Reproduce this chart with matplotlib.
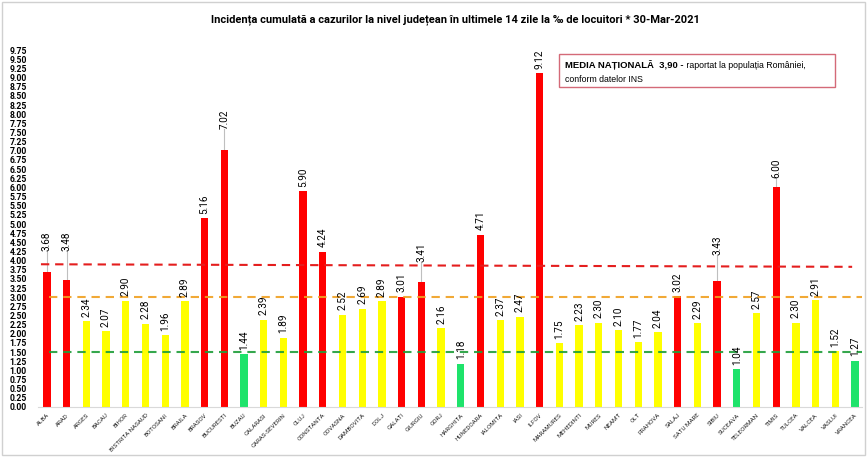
import numpy as np
import matplotlib
matplotlib.use('Agg')
import matplotlib.pyplot as plt
from matplotlib.patches import Rectangle

# ----------------- data -----------------
judete = ['ALBA', 'ARAD', 'ARGES', 'BACAU', 'BIHOR', 'BISTRITA NASAUD', 'BOTOSANI',
          'BRAILA', 'BRASOV', 'BUCURESTI', 'BUZAU', 'CALARASI', 'CARAS-SEVERIN', 'CLUJ',
          'CONSTANTA', 'COVASNA', 'DAMBOVITA', 'DOLJ', 'GALATI', 'GIURGIU', 'GORJ',
          'HARGHITA', 'HUNEDOARA', 'IALOMITA', 'IASI', 'ILFOV', 'MARAMURES', 'MEHEDINTI',
          'MURES', 'NEAMT', 'OLT', 'PRAHOVA', 'SALAJ', 'SATU MARE', 'SIBIU', 'SUCEAVA',
          'TELEORMAN', 'TIMIS', 'TULCEA', 'VALCEA', 'VASLUI', 'VRANCEA']
incidenta = [3.68, 3.48, 2.34, 2.07, 2.90, 2.28, 1.96, 2.89, 5.16, 7.02, 1.44, 2.39,
             1.89, 5.90, 4.24, 2.52, 2.69, 2.89, 3.01, 3.41, 2.16, 1.18, 4.71, 2.37,
             2.47, 9.12, 1.75, 2.23, 2.30, 2.10, 1.77, 2.04, 3.02, 2.29, 3.43, 1.04,
             2.57, 6.00, 2.30, 2.91, 1.52, 1.27]

media_nationala = [3.90, 3.83]   # red dashed line, slightly slanted in the original
prag_galben = 3.0
prag_verde = 1.5

# labels lifted above the bar, with a grey leader line
etichete_ridicate = {'ALBA': 4.25, 'ARAD': 4.25, 'BUCURESTI': 7.6,
                     'GIURGIU': 3.96, 'SIBIU': 4.15, 'TIMIS': 6.25}


def culoare(v):
    if v > prag_galben:
        return '#ff0000'
    if v >= prag_verde:
        return '#ffff00'
    return '#1ee36b'


plt.rcParams['font.family'] = ['Roboto', 'DejaVu Sans']

fig = plt.figure(figsize=(8.67, 4.57), dpi=100)
ax = fig.add_axes([38 / 867, 50 / 457, (862 - 38) / 867, 9.95 * 36.6 / 457])

x = np.arange(len(judete))
ax.bar(x, incidenta, width=0.37, color=[culoare(v) for v in incidenta], zorder=2)

for i, (j, v) in enumerate(zip(judete, incidenta)):
    if j in etichete_ridicate:
        y = etichete_ridicate[j]
        ax.plot([i, i], [v, y], color='#bfbfbf', lw=0.8, zorder=1)
    else:
        y = v + 0.12
    ax.text(i, y, f'{v:.2f}', rotation=90, ha='center', va='bottom',
            fontsize=7.2, color='black', zorder=4)

# threshold lines
ax.plot([-0.3, 40.85], media_nationala, color='#e41e1e', lw=1.5,
        dashes=(4, 2.8), zorder=3)
ax.plot([0.1, 41.35], [prag_galben, prag_galben], color='#f0a020', lw=1.5,
        dashes=(4, 2.8), zorder=3, alpha=0.9)
ax.plot([0.1, 41.35], [prag_verde, prag_verde], color='#1f9e3a', lw=1.5,
        dashes=(4, 2.8), zorder=3, alpha=0.9)

ax.set_xlim(-0.45, 41.35)
ax.set_ylim(0, 9.95)

yt = np.arange(0, 9.76, 0.25)
ax.set_yticks(yt)
ax.set_yticklabels([f'{t:.2f}' for t in yt], fontsize=6.2, fontweight='bold')
ax.set_xticks(x)
ax.set_xticklabels(judete, rotation=45, ha='right', va='top',
                   rotation_mode='anchor', fontsize=4.5, color='#262626')
ax.tick_params(axis='y', length=0, pad=8)
ax.tick_params(axis='x', length=0, pad=4)

for s in ['top', 'right', 'left']:
    ax.spines[s].set_visible(False)
ax.spines['bottom'].set_color('#d9d9d9')

fig.text(455 / 867, (457 - 20) / 457,
         'Incidența cumulată a cazurilor la nivel județean în ultimele 14 zile la ‰ de locuitori * 30-Mar-2021',
         ha='center', va='center', fontsize=8, fontweight='bold')

# box with national average
fig.patches.append(Rectangle((559 / 867, (457 - 87) / 457), 276 / 867, 33 / 457,
                             transform=fig.transFigure, fill=False,
                             edgecolor='#d46a78', lw=1))
t1 = fig.text(565 / 867, (457 - 65) / 457, 'MEDIA NAȚIONALĂ  3,90 -',
              family='Liberation Sans', fontweight='bold', fontsize=6.8, va='center')
ax.annotate(' raportat la populația României,', xy=(1, 0.5), xycoords=t1,
            va='center', ha='left', family='Liberation Sans', fontsize=6.3)
fig.text(565 / 867, (457 - 79) / 457, 'conform datelor INS',
         family='Liberation Sans', fontsize=6.3, va='center')

# light frame around the picture
fig.patches.append(Rectangle((0.002, 0.004), 0.996, 0.992, transform=fig.transFigure,
                             fill=False, edgecolor='#d0d0d0', lw=1))

fig.savefig('out.png', dpi=100)
